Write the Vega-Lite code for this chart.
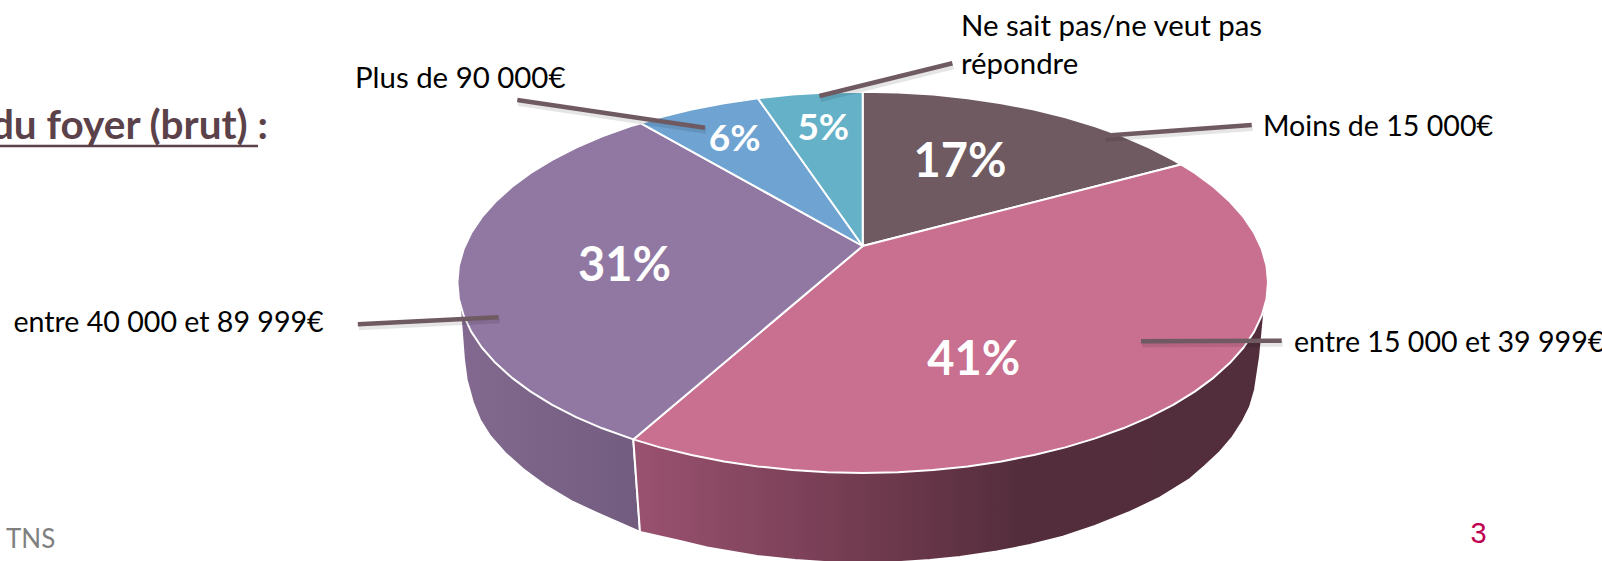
{
"$schema":"https://vega.github.io/schema/vega-lite/v6.json",
"width":1602,"height":561,"padding":0,"autosize":{"type":"none"},
"background":"white","view":{"stroke":null},
"datasets":{
"top":[
{"slice":"Moins de 15 000€","i":0,"x":862.7,"y":246},{"slice":"Moins de 15 000€","i":1,"x":862.7,"y":91.7},{"slice":"Moins de 15 000€","i":2,"x":898.0,"y":92.4},{"slice":"Moins de 15 000€","i":3,"x":933.1,"y":94.6},{"slice":"Moins de 15 000€","i":4,"x":967.6,"y":98.2},{"slice":"Moins de 15 000€","i":5,"x":1001.3,"y":103.2},{"slice":"Moins de 15 000€","i":6,"x":1034.0,"y":109.6},{"slice":"Moins de 15 000€","i":7,"x":1065.4,"y":117.2},{"slice":"Moins de 15 000€","i":8,"x":1095.2,"y":126.2},{"slice":"Moins de 15 000€","i":9,"x":1123.2,"y":136.3},{"slice":"Moins de 15 000€","i":10,"x":1149.3,"y":147.5},{"slice":"Moins de 15 000€","i":11,"x":1173.2,"y":159.8},{"slice":"Moins de 15 000€","i":12,"x":1181,"y":164.5},
{"slice":"entre 15 000 et 39 999€","i":0,"x":862.7,"y":246},{"slice":"entre 15 000 et 39 999€","i":1,"x":1181,"y":164.5},{"slice":"entre 15 000 et 39 999€","i":2,"x":1194.7,"y":173.0},{"slice":"entre 15 000 et 39 999€","i":3,"x":1213.7,"y":187.0},{"slice":"entre 15 000 et 39 999€","i":4,"x":1230.0,"y":201.8},{"slice":"entre 15 000 et 39 999€","i":5,"x":1243.6,"y":217.2},{"slice":"entre 15 000 et 39 999€","i":6,"x":1254.2,"y":233.0},{"slice":"entre 15 000 et 39 999€","i":7,"x":1261.8,"y":249.2},{"slice":"entre 15 000 et 39 999€","i":8,"x":1266.5,"y":265.7},{"slice":"entre 15 000 et 39 999€","i":9,"x":1268.0,"y":282.3},{"slice":"entre 15 000 et 39 999€","i":10,"x":1266.5,"y":298.9},{"slice":"entre 15 000 et 39 999€","i":11,"x":1261.8,"y":315.4},{"slice":"entre 15 000 et 39 999€","i":12,"x":1254.2,"y":331.6},{"slice":"entre 15 000 et 39 999€","i":13,"x":1243.6,"y":347.5},{"slice":"entre 15 000 et 39 999€","i":14,"x":1230.0,"y":362.8},{"slice":"entre 15 000 et 39 999€","i":15,"x":1213.7,"y":377.6},{"slice":"entre 15 000 et 39 999€","i":16,"x":1194.7,"y":391.6},{"slice":"entre 15 000 et 39 999€","i":17,"x":1173.2,"y":404.8},{"slice":"entre 15 000 et 39 999€","i":18,"x":1149.3,"y":417.1},{"slice":"entre 15 000 et 39 999€","i":19,"x":1123.2,"y":428.3},{"slice":"entre 15 000 et 39 999€","i":20,"x":1095.2,"y":438.4},{"slice":"entre 15 000 et 39 999€","i":21,"x":1065.4,"y":447.4},{"slice":"entre 15 000 et 39 999€","i":22,"x":1034.0,"y":455.0},{"slice":"entre 15 000 et 39 999€","i":23,"x":1001.3,"y":461.4},{"slice":"entre 15 000 et 39 999€","i":24,"x":967.6,"y":466.4},{"slice":"entre 15 000 et 39 999€","i":25,"x":933.1,"y":470.0},{"slice":"entre 15 000 et 39 999€","i":26,"x":898.0,"y":472.2},{"slice":"entre 15 000 et 39 999€","i":27,"x":862.7,"y":472.9},{"slice":"entre 15 000 et 39 999€","i":28,"x":827.4,"y":472.2},{"slice":"entre 15 000 et 39 999€","i":29,"x":792.3,"y":470.0},{"slice":"entre 15 000 et 39 999€","i":30,"x":757.8,"y":466.4},{"slice":"entre 15 000 et 39 999€","i":31,"x":724.1,"y":461.4},{"slice":"entre 15 000 et 39 999€","i":32,"x":691.4,"y":455.0},{"slice":"entre 15 000 et 39 999€","i":33,"x":660.0,"y":447.4},{"slice":"entre 15 000 et 39 999€","i":34,"x":633.3,"y":439.4},
{"slice":"entre 40 000 et 89 999€","i":0,"x":862.7,"y":246},{"slice":"entre 40 000 et 89 999€","i":1,"x":633.3,"y":439.4},{"slice":"entre 40 000 et 89 999€","i":2,"x":602.2,"y":428.3},{"slice":"entre 40 000 et 89 999€","i":3,"x":576.1,"y":417.1},{"slice":"entre 40 000 et 89 999€","i":4,"x":552.2,"y":404.8},{"slice":"entre 40 000 et 89 999€","i":5,"x":530.7,"y":391.6},{"slice":"entre 40 000 et 89 999€","i":6,"x":511.7,"y":377.6},{"slice":"entre 40 000 et 89 999€","i":7,"x":495.4,"y":362.8},{"slice":"entre 40 000 et 89 999€","i":8,"x":481.8,"y":347.5},{"slice":"entre 40 000 et 89 999€","i":9,"x":471.2,"y":331.6},{"slice":"entre 40 000 et 89 999€","i":10,"x":463.6,"y":315.4},{"slice":"entre 40 000 et 89 999€","i":11,"x":458.9,"y":298.9},{"slice":"entre 40 000 et 89 999€","i":12,"x":457.4,"y":282.3},{"slice":"entre 40 000 et 89 999€","i":13,"x":458.9,"y":265.7},{"slice":"entre 40 000 et 89 999€","i":14,"x":463.6,"y":249.2},{"slice":"entre 40 000 et 89 999€","i":15,"x":471.2,"y":233.0},{"slice":"entre 40 000 et 89 999€","i":16,"x":481.8,"y":217.2},{"slice":"entre 40 000 et 89 999€","i":17,"x":495.4,"y":201.8},{"slice":"entre 40 000 et 89 999€","i":18,"x":511.7,"y":187.0},{"slice":"entre 40 000 et 89 999€","i":19,"x":530.7,"y":173.0},{"slice":"entre 40 000 et 89 999€","i":20,"x":552.2,"y":159.8},{"slice":"entre 40 000 et 89 999€","i":21,"x":576.1,"y":147.5},{"slice":"entre 40 000 et 89 999€","i":22,"x":602.2,"y":136.3},{"slice":"entre 40 000 et 89 999€","i":23,"x":630.2,"y":126.2},{"slice":"entre 40 000 et 89 999€","i":24,"x":641,"y":123.3},
{"slice":"Plus de 90 000€","i":0,"x":862.7,"y":246},{"slice":"Plus de 90 000€","i":1,"x":641,"y":123.3},{"slice":"Plus de 90 000€","i":2,"x":660.0,"y":117.2},{"slice":"Plus de 90 000€","i":3,"x":691.4,"y":109.6},{"slice":"Plus de 90 000€","i":4,"x":724.1,"y":103.2},{"slice":"Plus de 90 000€","i":5,"x":757.8,"y":98.2},
{"slice":"Ne sait pas/ne veut pas répondre","i":0,"x":862.7,"y":246},{"slice":"Ne sait pas/ne veut pas répondre","i":1,"x":757.8,"y":98.2},{"slice":"Ne sait pas/ne veut pas répondre","i":2,"x":792.3,"y":94.6},{"slice":"Ne sait pas/ne veut pas répondre","i":3,"x":827.4,"y":92.4},{"slice":"Ne sait pas/ne veut pas répondre","i":4,"x":862.7,"y":91.7}
],
"sideRight":[
{"i":0,"x":1265,"y":305},{"i":1,"x":1260,"y":357},{"i":2,"x":1255,"y":390},{"i":3,"x":1250,"y":407},{"i":4,"x":1243,"y":421},{"i":5,"x":1232,"y":438},{"i":6,"x":1220,"y":452},{"i":7,"x":1205,"y":466},{"i":8,"x":1190,"y":479},{"i":9,"x":1160,"y":497.6},{"i":10,"x":1130,"y":512},{"i":11,"x":1095,"y":526},{"i":12,"x":1063,"y":536.6},{"i":13,"x":1030,"y":545},{"i":14,"x":997,"y":551.6},{"i":15,"x":960,"y":557},{"i":16,"x":930,"y":560},{"i":17,"x":895,"y":562.4},{"i":18,"x":862.7,"y":563},{"i":19,"x":830,"y":562.4},{"i":20,"x":795,"y":560},{"i":21,"x":757,"y":556},{"i":22,"x":707,"y":547.5},{"i":23,"x":680,"y":541},{"i":24,"x":640,"y":532},{"i":25,"x":633.3,"y":439.4},{"i":26,"x":862.7,"y":282}
],
"sideLeft":[
{"i":0,"x":459.3,"y":300},{"i":1,"x":461.7,"y":330},{"i":2,"x":464,"y":360},{"i":3,"x":466.7,"y":380},{"i":4,"x":473,"y":403},{"i":5,"x":480,"y":420},{"i":6,"x":490,"y":436},{"i":7,"x":505,"y":453},{"i":8,"x":523,"y":469},{"i":9,"x":545,"y":485.4},{"i":10,"x":573,"y":502},{"i":11,"x":600,"y":514.5},{"i":12,"x":640,"y":532},{"i":13,"x":633.3,"y":439.4},{"i":14,"x":700,"y":300}
],
"leaders":[
{"to":"Plus de 90 000€","i":0,"x":517.3,"y":100},{"to":"Plus de 90 000€","i":1,"x":705,"y":127.7},
{"to":"Ne sait pas/ne veut pas répondre","i":0,"x":819.4,"y":96},{"to":"Ne sait pas/ne veut pas répondre","i":1,"x":952.4,"y":63.3},
{"to":"Moins de 15 000€","i":0,"x":1104.3,"y":135.7},{"to":"Moins de 15 000€","i":1,"x":1251.7,"y":125},
{"to":"entre 15 000 et 39 999€","i":0,"x":1141,"y":341.3},{"to":"entre 15 000 et 39 999€","i":1,"x":1281.7,"y":340.7},
{"to":"entre 40 000 et 89 999€","i":0,"x":357.8,"y":324.3},{"to":"entre 40 000 et 89 999€","i":1,"x":498.6,"y":317.3}
],
"names":[
{"t":"Moins de 15 000€","x":1263,"y":136},
{"t":"entre 15 000 et 39 999€","x":1294,"y":352},
{"t":"entre 40 000 et 89 999€","x":13.4,"y":332}
],
"namesWide":[
{"t":"Plus de 90 000€","x":355,"y":88},
{"t":"Ne sait pas/ne veut pas","x":961,"y":36},
{"t":"répondre","x":961,"y":74}
],
"bigShares":[
{"share":"31%","x":624.5,"y":266.5},{"share":"41%","x":973.7,"y":360.5},{"share":"17%","x":960,"y":162.5}
],
"smallShares":[
{"share":"6%","x":734.6,"y":140},{"share":"5%","x":823.3,"y":128.7}
],
"heading":[{"t":"du foyer (brut) :","x":268,"y":139}],
"headingRule":[{"x":0,"x2":258,"y":146}],
"tns":[{"t":"TNS","x":6,"y":548}],
"page":[{"t":"3","x":1478.5,"y":543}]
},
"encoding":{
"x":{"field":"x","type":"quantitative","axis":null,"scale":{"domain":[0,1602],"nice":false,"zero":false}},
"y":{"field":"y","type":"quantitative","axis":null,"scale":{"domain":[561,0],"nice":false,"zero":false}}
},
"layer":[
{"data":{"name":"sideLeft"},"mark":{"type":"line","interpolate":"linear-closed","clip":true,"stroke":"white","strokeWidth":2,"fill":{"gradient":"linear","x1":0,"y1":0,"x2":1,"y2":0,"stops":[{"offset":0,"color":"#83698f"},{"offset":1,"color":"#6c5879"}]}},"encoding":{"order":{"field":"i"}}},
{"data":{"name":"sideRight"},"mark":{"type":"line","interpolate":"linear-closed","clip":true,"stroke":"white","strokeWidth":2,"fill":{"gradient":"linear","x1":0,"y1":0,"x2":1,"y2":0,"stops":[{"offset":0,"color":"#9a5270"},{"offset":0.4,"color":"#6e394d"},{"offset":0.62,"color":"#532d3b"},{"offset":1,"color":"#522d3b"}]}},"encoding":{"order":{"field":"i"}}},
{"data":{"name":"top"},"mark":{"type":"line","interpolate":"linear-closed","clip":true,"stroke":"white","strokeWidth":2,"strokeJoin":"round"},"encoding":{"order":{"field":"i"},"fill":{"field":"slice","type":"nominal","legend":null,"scale":{"domain":["Moins de 15 000€","entre 15 000 et 39 999€","entre 40 000 et 89 999€","Plus de 90 000€","Ne sait pas/ne veut pas répondre"],"range":["#6f5a61","#c96f90","#9078a2","#6fa3d2","#65b2c8"]}}}},
{"data":{"name":"leaders"},"mark":{"type":"line","clip":true,"stroke":"#000000","strokeOpacity":0.1,"strokeWidth":6,"yOffset":3,"xOffset":1},"encoding":{"order":{"field":"i"},"detail":{"field":"to"}}},
{"data":{"name":"leaders"},"mark":{"type":"line","clip":true,"stroke":"#6f5a62","strokeWidth":4.5},"encoding":{"order":{"field":"i"},"detail":{"field":"to"}}},
{"data":{"name":"names"},"mark":{"type":"text","align":"left","baseline":"alphabetic","font":"Lato","fontSize":28.6,"fill":"#000000"},"encoding":{"text":{"field":"t"}}},
{"data":{"name":"namesWide"},"mark":{"type":"text","align":"left","baseline":"alphabetic","font":"Lato","fontSize":29.4,"fill":"#000000"},"encoding":{"text":{"field":"t"}}},
{"data":{"name":"bigShares"},"mark":{"type":"text","align":"center","baseline":"middle","font":"Lato","fontWeight":"bold","fontSize":47,"fill":"white"},"encoding":{"text":{"field":"share"}}},
{"data":{"name":"smallShares"},"mark":{"type":"text","align":"center","baseline":"middle","font":"Lato","fontWeight":"bold","fontSize":37,"fill":"white"},"encoding":{"text":{"field":"share"}}},
{"data":{"name":"heading"},"mark":{"type":"text","align":"right","baseline":"alphabetic","font":"Lato","fontWeight":"bold","fontSize":40.5,"fill":"#5b4149"},"encoding":{"text":{"field":"t"}}},
{"data":{"name":"headingRule"},"mark":{"type":"rule","stroke":"#5b4149","strokeWidth":2.5},"encoding":{"x2":{"field":"x2"}}},
{"data":{"name":"tns"},"mark":{"type":"text","align":"left","baseline":"alphabetic","font":"Lato","fontSize":26,"fill":"#7f7f7f"},"encoding":{"text":{"field":"t"}}},
{"data":{"name":"page"},"mark":{"type":"text","align":"center","baseline":"alphabetic","font":"Liberation Sans","fontSize":29,"fill":"#c00050"},"encoding":{"text":{"field":"t"}}}
]
}
